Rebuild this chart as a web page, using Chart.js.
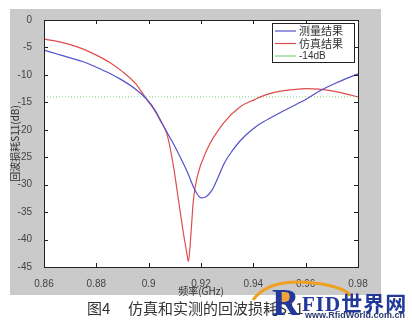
<!DOCTYPE html>
<html>
<head>
<meta charset="utf-8">
<script src="https://cdn.jsdelivr.net/npm/chart.js@4"></script>
<style>
  body { margin: 0; background: #fff; }
  #wrap { position: relative; width: 412px; height: 331px; overflow: hidden; }
  #figbg { position: absolute; left: 10px; top: 9px; width: 371px; height: 286px; background: #cacaca; }
  canvas { position: absolute; left: 0; top: 0; }
  .cap { position: absolute; top: 297px; font-family: "Noto Sans CJK SC", sans-serif; font-size: 15px; color: #333; white-space: nowrap; }
  #logo { position: absolute; left: 250px; top: 278px; width: 162px; height: 53px; }
  .logoR { position: absolute; left: 22px; top: 2px; font-family: "Liberation Serif", serif; font-weight: bold; font-size: 38px; color: #22399a; }
  .logoT { position: absolute; left: 52px; top: 9px; font-family: "Liberation Serif", "Noto Sans CJK SC", serif; font-weight: bold; font-size: 21px; color: #22399a; letter-spacing: 1px; }
  .logoU { position: absolute; left: 55px; top: 32px; font-family: "Liberation Sans", sans-serif; font-weight: bold; font-size: 9px; color: #2a3a70; }
</style>
</head>
<body>
<div id="wrap">
  <div id="figbg"></div>
  <canvas id="rlChart" width="412" height="331"></canvas>
  <div class="cap" style="left:87px">图4</div>
  <div class="cap" style="left:128px">仿真和实测的回波损耗S11</div>
  <div id="logo">
    <svg width="162" height="53" style="position:absolute;left:0;top:0">
      <path d="M 3 22 Q 20 -2 72 6 Q 98 11 100 18" fill="none" stroke="#f0a020" stroke-width="3"/>
      <circle cx="37" cy="20" r="7" fill="#f2a23a"/>
    </svg>
    <div class="logoR">R</div>
    <div class="logoT">FID世界网</div>
    <div class="logoU">www.RfidWorld.com.cn</div>
  </div>
</div>
<script>
// frequency (GHz) and return loss S11 (dB)
const measFreq = [0.86, 0.865, 0.87, 0.875, 0.88, 0.885, 0.89, 0.895, 0.899, 0.9024, 0.906, 0.9093, 0.912,
    0.9147, 0.9177, 0.920, 0.9215, 0.9242, 0.9265, 0.929, 0.932, 0.935, 0.938, 0.942, 0.947, 0.953,
    0.96, 0.9655, 0.972, 0.979, 0.98];
const measS11 = [-5.5, -6.2, -6.9, -7.6, -8.6, -9.7, -11.0, -12.6, -14.3, -16.4, -19.6, -22.4, -24.9,
    -27.6, -31.0, -32.4, -32.3, -31.0, -28.7, -26.0, -23.8, -22.0, -20.6, -19.1, -17.7, -16.2,
    -14.5, -12.9, -11.4, -10.0, -9.8];

const simFreq = [0.86, 0.865, 0.87, 0.875, 0.88, 0.885, 0.89, 0.895, 0.899, 0.902, 0.9045, 0.907, 0.9095,
    0.9114, 0.9133, 0.9146, 0.9152, 0.9158, 0.9163, 0.9171, 0.9186, 0.9222, 0.9286, 0.935, 0.9405, 0.945,
    0.95, 0.955, 0.96, 0.965, 0.97, 0.975, 0.98];
const simS11 = [-3.5, -3.9, -4.5, -5.3, -6.4, -7.7, -9.4, -11.6, -14.3, -16.3, -18.4, -20.8, -26.7,
    -32.8, -38.9, -42.5, -44.0, -41.3, -38.0, -32.8, -28.5, -23.7, -18.8, -15.8, -14.5, -13.6,
    -13.0, -12.7, -12.5, -12.6, -12.9, -13.4, -14.0];

const refFreq = [0.86, 0.98];
const refS11 = [-14, -14];

const seriesNames = ["测量结果", "仿真结果", "-14dB"];
const xTicks = [0.86, 0.88, 0.9, 0.92, 0.94, 0.96, 0.98];
const yTicks = [0, -5, -10, -15, -20, -25, -30, -35, -40, -45];

const toPts = (xs, ys) => xs.map((x, i) => ({ x: x, y: ys[i] }));

const boxPlugin = {
    id: "matlabBox",
    beforeDatasetsDraw(chart) {
        const { ctx, chartArea: a } = chart;
        ctx.save();
        ctx.fillStyle = "#fff";
        ctx.fillRect(a.left, a.top, a.right - a.left, a.bottom - a.top);
        ctx.restore();
    },
    afterDraw(chart) {
        const { ctx, chartArea: a, scales } = chart;
        ctx.save();
        ctx.strokeStyle = "#222";
        ctx.lineWidth = 1;
        ctx.strokeRect(a.left + 0.5, a.top + 0.5, a.right - a.left, a.bottom - a.top);
        ctx.beginPath();
        scales.x.ticks.forEach(t => {
            const px = Math.round(scales.x.getPixelForValue(t.value)) + 0.5;
            ctx.moveTo(px, a.bottom); ctx.lineTo(px, a.bottom - 4);
            ctx.moveTo(px, a.top); ctx.lineTo(px, a.top + 4);
        });
        scales.y.ticks.forEach(t => {
            const py = Math.round(scales.y.getPixelForValue(t.value)) + 0.5;
            ctx.moveTo(a.left, py); ctx.lineTo(a.left + 4, py);
            ctx.moveTo(a.right, py); ctx.lineTo(a.right - 4, py);
        });
        ctx.stroke();

        // legend box in the upper right corner
        const bx = a.right - 86, by = a.top + 3, bw = 82, bh = 39;
        ctx.fillStyle = "#fff";
        ctx.fillRect(bx, by, bw, bh);
        ctx.strokeStyle = "#222";
        ctx.strokeRect(bx + 0.5, by + 0.5, bw, bh);
        chart.data.datasets.forEach((ds, i) => {
            const ly = by + 8 + i * 12.5;
            ctx.strokeStyle = ds.borderColor;
            ctx.lineWidth = 1.2;
            ctx.setLineDash([]);
            ctx.beginPath();
            ctx.moveTo(bx + 3, ly); ctx.lineTo(bx + 24, ly);
            ctx.stroke();
            ctx.fillStyle = "#333";
            ctx.textBaseline = "middle";
            ctx.font = i < 2 ? "11px 'Noto Sans CJK SC'" : "10px 'Liberation Sans'";
            ctx.fillText(ds.label, bx + 27, ly);
        });
        ctx.restore();
    }
};

const ctx = document.getElementById("rlChart").getContext("2d");
const tickFont = { family: "Liberation Sans", size: 10 };

new Chart(ctx, {
    type: "line",
    data: {
        datasets: [
            {
                label: seriesNames[0],
                data: toPts(measFreq, measS11),
                borderColor: "#5252cc",
                borderWidth: 1.2,
                pointRadius: 0,
                fill: false,
                cubicInterpolationMode: "monotone",
            },
            {
                label: seriesNames[1],
                data: toPts(simFreq, simS11),
                borderColor: "#e04c4c",
                borderWidth: 1.2,
                pointRadius: 0,
                fill: false,
                cubicInterpolationMode: "monotone",
            },
            {
                label: seriesNames[2],
                data: toPts(refFreq, refS11),
                borderColor: "#80d480",
                borderWidth: 1,
                borderDash: [1, 2],
                pointRadius: 0,
                fill: false,
            },
        ],
    },
    options: {
        responsive: false,
        animation: false,
        layout: { padding: { left: 0, top: 20, right: 54, bottom: 34 } },
        plugins: {
            legend: { display: false },
            tooltip: { enabled: false },
        },
        scales: {
            x: {
                type: "linear",
                min: 0.86,
                max: 0.98,
                afterFit: s => { s.height = 30; },
                afterBuildTicks: s => { s.ticks = xTicks.map(v => ({ value: v })); },
                grid: { display: false },
                border: { display: false },
                ticks: {
                    color: "#444",
                    font: tickFont,
                    padding: 3,
                    maxRotation: 0,
                    autoSkip: false,
                    callback: v => String(parseFloat(v.toFixed(2))),
                },
                title: {
                    display: true,
                    text: "频率(GHz)",
                    color: "#333",
                    font: { family: "Noto Sans CJK SC", size: 10 },
                    padding: { top: 0, bottom: 0 },
                },
            },
            y: {
                min: -45,
                max: 0,
                afterFit: s => { s.width = 44; },
                afterBuildTicks: s => { s.ticks = yTicks.map(v => ({ value: v })); },
                grid: { display: false },
                border: { display: false },
                ticks: { color: "#444", font: tickFont, padding: 4, autoSkip: false },
                title: {
                    display: true,
                    text: "回波损耗S11(dB)",
                    color: "#333",
                    font: { family: "Noto Sans CJK SC", size: 10 },
                    padding: { top: 9, bottom: 0 },
                },
            },
        },
    },
    plugins: [boxPlugin],
});
</script>
</body>
</html>
